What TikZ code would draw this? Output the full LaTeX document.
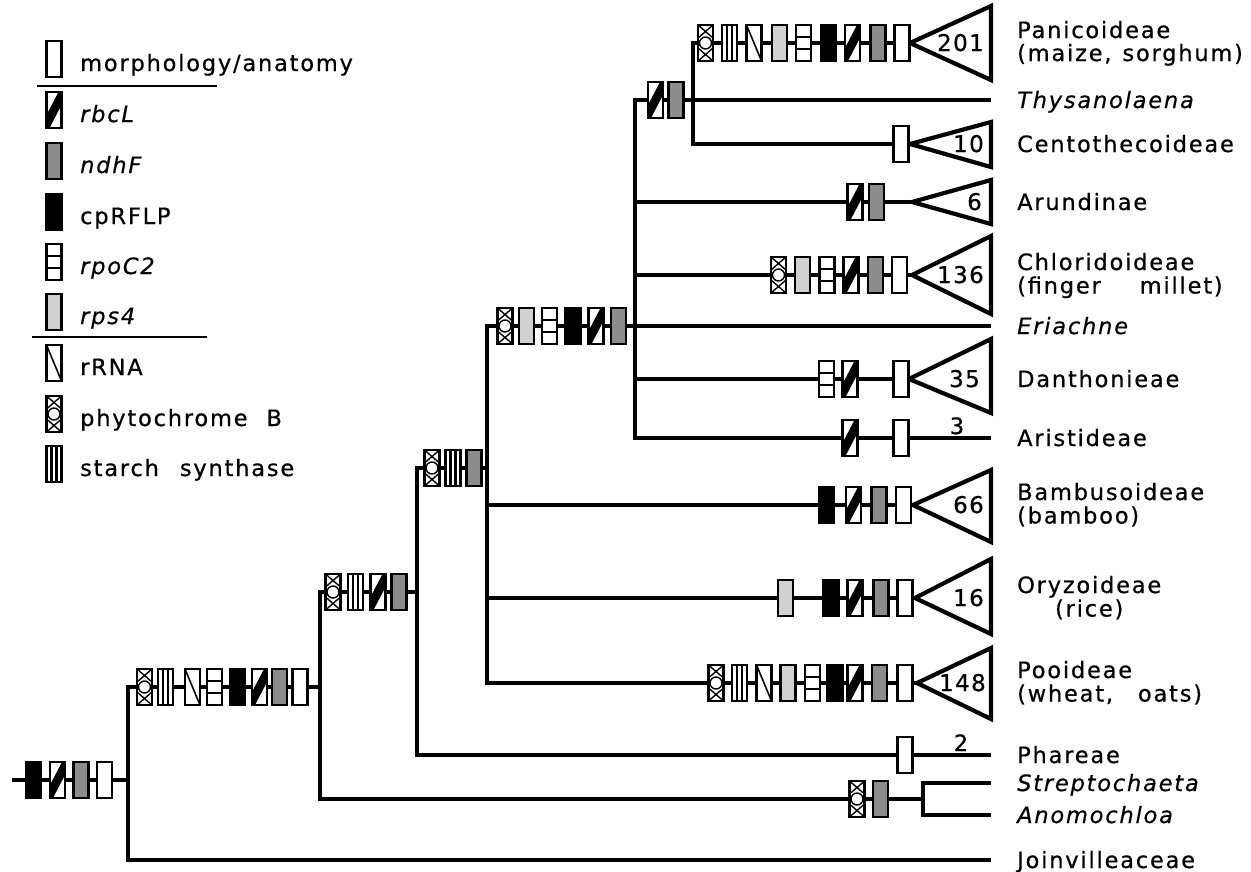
\documentclass[tikz,border=0pt]{standalone}
\usepackage{fontspec}
\setmainfont{DejaVu Sans}[LetterSpace=8, FakeBold=0.6]
\newfontfamily\numfont{DejaVu Sans}[LetterSpace=6, FakeBold=0.6]
\begin{document}
\begin{tikzpicture}[x=1pt,y=-1pt,
  font=\fontsize{22.5}{26}\selectfont,
  tree/.style={line width=3.2pt, line join=miter},
  tri/.style={line width=4.2pt, line join=miter, fill=white},
  lab/.style={anchor=base west, inner sep=0pt},
  num/.style={anchor=base east, inner sep=0pt, font=\numfont\fontsize{23}{26}\selectfont},
  sm/.style={anchor=base, inner sep=0pt},
  bx/.style={draw, line width=2.2pt, fill=white, minimum width=15pt, minimum height=36pt, inner sep=0pt, outer sep=0pt},
  bMorph/.style={bx},
  bRflp/.style={bx, fill=black},
  bNdhf/.style={bx, fill=black!45},
  bRps/.style={bx, fill=black!18},
  bRbcl/.style={bx, path picture={\fill[black, shift={(path picture bounding box.center)}] (-7.5,5) -- (4.5,-18) -- (7.5,-18) -- (7.5,-5) -- (-4.5,18) -- (-7.5,18) -- cycle;}},
  bRpoc/.style={bx, path picture={\draw[line width=1.6pt, shift={(path picture bounding box.center)}] (-7.5,-6) -- (7.5,-6) (-7.5,6) -- (7.5,6);}},
  bRrna/.style={bx, path picture={\draw[line width=1.6pt, shift={(path picture bounding box.center)}] (-7.5,-18) -- (7.5,18);}},
  bSta/.style={bx, path picture={\draw[line width=2.2pt, shift={(path picture bounding box.center)}] (-2.5,-18) -- (-2.5,18) (2.5,-18) -- (2.5,18);}},
  bPhy/.style={bx, path picture={\draw[line width=1.4pt, shift={(path picture bounding box.center)}] (-7.5,-18) -- (7.5,-5) (7.5,-18) -- (-7.5,-5) (-7.5,18) -- (7.5,5) (7.5,18) -- (-7.5,5) (0,0) circle (6pt);}},
]
\useasboundingbox (0,0) rectangle (1251,871);

% ---------- tree coordinates ----------
\coordinate (root0) at (12,780);
\coordinate (j128) at (128,780);
\coordinate (v128t) at (128,687);
\coordinate (v128b) at (128,860);
\coordinate (n320) at (320,687);
\coordinate (v320t) at (320,592);
\coordinate (v320b) at (320,799);
\coordinate (n417) at (417,592);
\coordinate (v417t) at (417,468);
\coordinate (v417b) at (417,755);
\coordinate (n487) at (487,468);
\coordinate (v487t) at (487,326);
\coordinate (v487b) at (487,683);
\coordinate (v635t) at (635,100);
\coordinate (v635b) at (635,438);
\coordinate (v693t) at (693,43);
\coordinate (v693b) at (693,144);
\coordinate (jBam) at (487,505);
\coordinate (jOry) at (487,598);
\coordinate (jAru) at (635,202);
\coordinate (jChl) at (635,275);
\coordinate (jDan) at (635,379);
\coordinate (vSAt) at (923,783);
\coordinate (vSAb) at (923,815);
\coordinate (saE) at (923,799);
\coordinate (panE) at (910,43);
\coordinate (thyE) at (991,100);
\coordinate (cenE) at (910,144);
\coordinate (aruE) at (912,202);
\coordinate (chlE) at (912,275);
\coordinate (eriE) at (991,326);
\coordinate (danE) at (909,379);
\coordinate (arsE) at (991,438);
\coordinate (bamE) at (913,505);
\coordinate (oryE) at (915,598);
\coordinate (pooE) at (917,683);
\coordinate (phaE) at (991,755);
\coordinate (strE) at (991,783);
\coordinate (anoE) at (991,815);
\coordinate (joiE) at (991,860);

% ---------- branches ----------
\draw[tree] (root0) -- (j128);
\draw[tree] (n320) -- (v128t) -- (v128b) -- (joiE);
\draw[tree] (n417) -- (v320t) -- (v320b) -- (saE);
\draw[tree] (n487) -- (v417t) -- (v417b) -- (phaE);
\draw[tree] (eriE) -- (v487t) -- (v487b) -- (pooE);
\draw[tree] (thyE) -- (v635t) -- (v635b) -- (arsE);
\draw[tree] (panE) -- (v693t) -- (v693b) -- (cenE);
\draw[tree] (jBam) -- (bamE);
\draw[tree] (jOry) -- (oryE);
\draw[tree] (jAru) -- (aruE);
\draw[tree] (jChl) -- (chlE);
\draw[tree] (jDan) -- (danE);
\draw[tree] (strE) -- (vSAt) -- (vSAb) -- (anoE);

% ---------- clade triangles ----------
\draw[tri] (panE) -- (991,6) -- (991,80) -- cycle;
\draw[tri] (cenE) -- (991,122) -- (991,167) -- cycle;
\draw[tri] (aruE) -- (991,180) -- (991,224) -- cycle;
\draw[tri] (chlE) -- (991,236) -- (991,314) -- cycle;
\draw[tri] (danE) -- (991,339) -- (991,413) -- cycle;
\draw[tri] (bamE) -- (991,470) -- (991,542) -- cycle;
\draw[tri] (oryE) -- (991,559) -- (991,634) -- cycle;
\draw[tri] (pooE) -- (991,648) -- (991,719) -- cycle;
\node[num] (cPan) at (984,51) {201};
\node[num] (cCen) at (984,152) {10};
\node[num] (cAru) at (982,210) {6};
\node[num] (cChl) at (984,283) {136};
\node[num] (cDan) at (980,387) {35};
\node[num] (cBam) at (984,513) {66};
\node[num] (cOry) at (984,606) {16};
\node[num] (cPoo) at (986,691) {148};
\node[sm] (cArs) at (957,434) {3};
\node[sm] (cPha) at (961,751) {2};

% ---------- character boxes ----------
\foreach \s/\x [count=\i] in {bRflp/33.5, bRbcl/57.5, bNdhf/81, bMorph/104.5}
  \node[\s] (root\i) at (\x,780) {};
\foreach \s/\x [count=\i] in {bPhy/144.5, bSta/165.5, bRrna/192.5, bRpoc/214.5, bRflp/237.5, bRbcl/259.5, bNdhf/279.5, bMorph/300}
  \node[\s] (g\i) at (\x,687) {};
\foreach \s/\x [count=\i] in {bPhy/333, bSta/355.5, bRbcl/378, bNdhf/399}
  \node[\s] (h\i) at (\x,592) {};
\foreach \s/\x [count=\i] in {bPhy/432, bSta/453, bNdhf/474}
  \node[\s] (k\i) at (\x,468) {};
\foreach \s/\x [count=\i] in {bPhy/505, bRps/526.5, bRpoc/549.5, bRflp/573, bRbcl/596, bNdhf/618.5}
  \node[\s] (m\i) at (\x,326) {};
\foreach \s/\x [count=\i] in {bRbcl/655.5, bNdhf/676}
  \node[\s] (p\i) at (\x,100) {};
\foreach \s/\x [count=\i] in {bPhy/705.5, bSta/729.5, bRrna/754, bRps/779.5, bRpoc/803.5, bRflp/828.5, bRbcl/852.5, bNdhf/878, bMorph/902}
  \node[\s] (pan\i) at (\x,43) {};
\node[bMorph] (cen1) at (901,144) {};
\foreach \s/\x [count=\i] in {bRbcl/855, bNdhf/876.5}
  \node[\s] (aru\i) at (\x,202) {};
\foreach \s/\x [count=\i] in {bPhy/778.5, bRps/802.5, bRpoc/827, bRbcl/851, bNdhf/875.5, bMorph/899.5}
  \node[\s] (chl\i) at (\x,275) {};
\foreach \s/\x [count=\i] in {bRpoc/826.5, bRbcl/850, bMorph/901}
  \node[\s] (dan\i) at (\x,379) {};
\foreach \s/\x [count=\i] in {bRbcl/850, bMorph/901}
  \node[\s] (ars\i) at (\x,438) {};
\foreach \s/\x [count=\i] in {bRflp/826.5, bRbcl/853.5, bNdhf/879, bMorph/903.5}
  \node[\s] (bam\i) at (\x,505) {};
\foreach \s/\x [count=\i] in {bRps/785.5, bRflp/831, bRbcl/855, bNdhf/881, bMorph/905}
  \node[\s] (ory\i) at (\x,598) {};
\foreach \s/\x [count=\i] in {bPhy/716, bSta/739.5, bRrna/764, bRps/788, bRpoc/812.5, bRflp/835, bRbcl/855, bNdhf/879.5, bMorph/905}
  \node[\s] (poo\i) at (\x,683) {};
\node[bMorph] (pha1) at (905,755) {};
\foreach \s/\x [count=\i] in {bPhy/857, bNdhf/880.5}
  \node[\s] (sa\i) at (\x,799) {};

% ---------- taxon labels ----------
\node[lab] (lPan) at (1017,38) {Panicoideae};
\node[lab] (lPan2) at (1017,61) {(maize,\hspace{2pt} sorghum)};
\node[lab] (lThy) at (1017,108) {\itshape Thysanolaena};
\node[lab] (lCen) at (1017,152) {Centothecoideae};
\node[lab] (lAru) at (1017,210) {Arundinae};
\node[lab] (lChl) at (1017,270) {Chloridoideae};
\node[lab] (lChl2) at (1017,293.5) {(finger\hspace{30pt} millet)};
\node[lab] (lEri) at (1017,334) {\itshape Eriachne};
\node[lab] (lDan) at (1017,387) {Danthonieae};
\node[lab] (lArs) at (1017,446) {Aristideae};
\node[lab] (lBam) at (1017,500) {Bambusoideae};
\node[lab] (lBam2) at (1017,523.5) {(bamboo)};
\node[lab] (lOry) at (1017,593) {Oryzoideae};
\node[sm] (lOry2) at ([yshift=-23.5pt]lOry.base) {(rice)};
\node[lab] (lPoo) at (1017,678) {Pooideae};
\node[lab] (lPoo2) at (1017,701.5) {(wheat,\hspace{16pt} oats)};
\node[lab] (lPha) at (1017,763) {Phareae};
\node[lab] (lStr) at (1017,791) {\itshape Streptochaeta};
\node[lab] (lAno) at (1017,823) {\itshape Anomochloa};
\node[lab] (lJoi) at (1017,868) {Joinvilleaceae};

% ---------- legend ----------
\node[bMorph] (kMorph) at (54,59) {};
\node[lab] (tMorph) at (80,71) {morphology/anatomy};
\draw[line width=2pt] (37,86) -- (217,86);
\node[bRbcl] (kRbcl) at (54,110) {};
\node[lab] (tRbcl) at (80,122) {\itshape rbcL};
\node[bNdhf] (kNdhf) at (54,161) {};
\node[lab] (tNdhf) at (80,173) {\itshape ndhF};
\node[bRflp] (kRflp) at (54,212) {};
\node[lab] (tRflp) at (80,224) {cpRFLP};
\node[bRpoc] (kRpoc) at (54,262) {};
\node[lab] (tRpoc) at (80,274) {\itshape rpoC2};
\node[bRps] (kRps) at (54,312) {};
\node[lab] (tRps) at (80,324) {\itshape rps4};
\draw[line width=2pt] (32,337) -- (207,337);
\node[bRrna] (kRrna) at (54,363) {};
\node[lab] (tRrna) at (80,375) {rRNA};
\node[bPhy] (kPhy) at (54,414) {};
\node[lab] (tPhy) at (80,426) {phytochrome\hspace{10pt} B};
\node[bSta] (kSta) at (54,464) {};
\node[lab] (tSta) at (80,476) {starch\hspace{12pt} synthase};
\end{tikzpicture}
\end{document}
